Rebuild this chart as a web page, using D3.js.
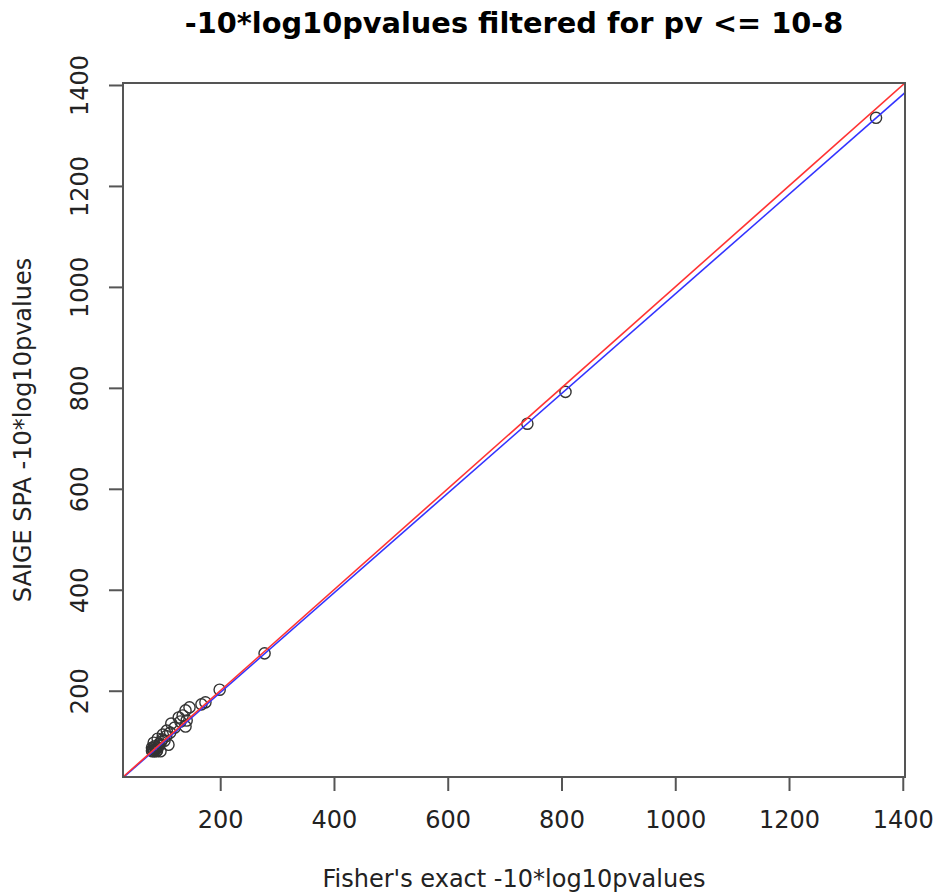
<!DOCTYPE html>
<html>
<head>
<meta charset="utf-8">
<script src="https://cdn.jsdelivr.net/npm/d3@7"></script>
<style>
  html, body { margin: 0; padding: 0; background: #fff; }
  svg { display: block; font-family: "DejaVu Sans", sans-serif; }
</style>
</head>
<body>
<svg id="chart" width="936" height="895"></svg>
<script>
// Fisher's exact -10*log10 p-values (x) vs SAIGE SPA -10*log10 p-values (y)
const fisherValues = [1353, 807, 740, 278, 199, 174, 167, 146, 139, 134, 141, 127, 114, 106, 139,
                      99, 90, 83, 80, 84, 109, 95, 88, 81, 92, 102, 120, 130, 80, 86,
                      82, 85, 87, 90, 93, 96, 84, 89, 98, 105, 112];
const saigeValues  = [1335, 792, 729, 274, 202, 177, 173, 167, 161, 151, 141, 147, 135, 121, 129,
                      113, 105, 97, 87, 83, 93, 80, 80, 80, 91, 101, 127, 139, 81, 87,
                      86, 90, 84, 88, 95, 99, 80, 82, 104, 110, 117];
const xTickValues = [200, 400, 600, 800, 1000, 1200, 1400];
const yTickValues = [200, 400, 600, 800, 1000, 1200, 1400];
// abline(lm(y ~ x)) coefficients
const lmIntercept = -1;
const lmSlope = 0.987;
// identity line y = x
const refIntercept = 0;
const refSlope = 1;

const titleText = "-10*log10pvalues filtered for pv <= 10-8";
const xLabel = "Fisher's exact -10*log10pvalues";
const yLabel = "SAIGE SPA -10*log10pvalues";

const svg = d3.select("#chart");
const box = { left: 123, right: 905, top: 83, bottom: 777 };

// R-style limits: common range of both variables, extended by 4%
const all = fisherValues.concat(saigeValues);
const lo = d3.min(all), hi = d3.max(all);
const pad = (hi - lo) * 0.04;
const lim = [lo - pad, hi + pad];

const x = d3.scaleLinear().domain(lim).range([box.left, box.right]);
const y = d3.scaleLinear().domain(lim).range([box.bottom, box.top]);

svg.append("defs").append("clipPath").attr("id", "clip")
  .append("rect")
  .attr("x", box.left).attr("y", box.top)
  .attr("width", box.right - box.left).attr("height", box.bottom - box.top);

const axisColor = "#555";
const fs = 24;

// points
svg.append("g").selectAll("circle")
  .data(fisherValues.map((v, i) => [v, saigeValues[i]]))
  .join("circle")
  .attr("cx", d => x(d[0]))
  .attr("cy", d => y(d[1]))
  .attr("r", 5.6)
  .attr("fill", "none")
  .attr("stroke", "#333")
  .attr("stroke-width", 1.4);

// lines
const lines = svg.append("g").attr("clip-path", "url(#clip)");
function abline(a, b, color) {
  lines.append("line")
    .attr("x1", x(lim[0])).attr("y1", y(a + b * lim[0]))
    .attr("x2", x(lim[1])).attr("y2", y(a + b * lim[1]))
    .attr("stroke", color).attr("stroke-width", 1.6);
}
abline(lmIntercept, lmSlope, "#3333ff");
abline(refIntercept, refSlope, "#ff3333");

// box
svg.append("rect")
  .attr("x", box.left).attr("y", box.top)
  .attr("width", box.right - box.left).attr("height", box.bottom - box.top)
  .attr("fill", "none").attr("stroke", axisColor).attr("stroke-width", 2);

// x axis
const xAxis = d3.axisBottom(x).tickValues(xTickValues).tickSize(14).tickPadding(10)
  .tickFormat(d3.format("d"));
const gx = svg.append("g").attr("transform", `translate(0,${box.bottom})`).call(xAxis);
gx.select(".domain").attr("d", `M${x(xTickValues[0])},0H${x(xTickValues[xTickValues.length-1])}`)
  .attr("stroke", axisColor).attr("stroke-width", 2);
gx.selectAll(".tick line").attr("stroke", axisColor).attr("stroke-width", 2);
gx.selectAll(".tick text").attr("font-size", fs).attr("font-family", "DejaVu Sans")
  .attr("fill", "#222").attr("dy", null).attr("y", 51);

// y axis
const yAxis = d3.axisLeft(y).tickValues(yTickValues).tickSize(14).tickFormat(d3.format("d"));
const gy = svg.append("g").attr("transform", `translate(${box.left},0)`).call(yAxis);
gy.select(".domain").attr("d", `M0,${y(yTickValues[0])}V${y(yTickValues[yTickValues.length-1])}`)
  .attr("stroke", axisColor).attr("stroke-width", 2);
gy.selectAll(".tick line").attr("stroke", axisColor).attr("stroke-width", 2);
gy.selectAll(".tick text")
  .attr("font-size", fs).attr("font-family", "DejaVu Sans").attr("fill", "#222")
  .attr("x", null).attr("dy", null)
  .attr("text-anchor", "middle")
  .attr("transform", "translate(-35,0) rotate(-90)");

// title
svg.append("text")
  .attr("x", (box.left + box.right) / 2).attr("y", 33)
  .attr("text-anchor", "middle")
  .attr("font-size", 28.8).attr("font-weight", "bold").attr("fill", "#000")
  .text(titleText);

// axis titles
svg.append("text")
  .attr("x", (box.left + box.right) / 2).attr("y", 887)
  .attr("text-anchor", "middle").attr("font-size", fs).attr("fill", "#222")
  .text(xLabel);
svg.append("text")
  .attr("transform", `translate(31,${(box.top + box.bottom) / 2}) rotate(-90)`)
  .attr("text-anchor", "middle").attr("font-size", fs).attr("fill", "#222")
  .text(yLabel);
</script>
</body>
</html>
